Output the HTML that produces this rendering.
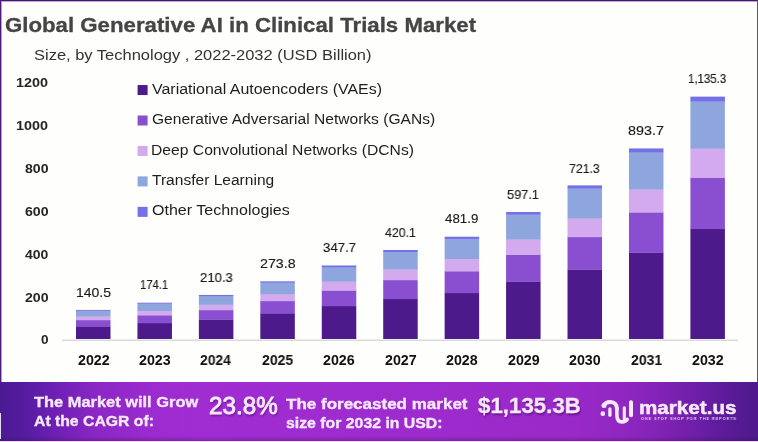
<!DOCTYPE html><html><head><meta charset="utf-8"><title>Global Generative AI in Clinical Trials Market</title><style>
html,body{margin:0;padding:0;}
body{width:758px;height:442px;overflow:hidden;background:#fff;font-family:"Liberation Sans",sans-serif;}
#wrap{position:relative;width:758px;height:442px;overflow:hidden;background:#fefefd;}
.t{position:absolute;white-space:nowrap;transform-origin:0 0;margin:0;padding:0;will-change:transform;}
.seg{position:absolute;}
#banner{position:absolute;left:0;top:382px;width:758px;height:60px;background:linear-gradient(90deg,#4a1a92 0%,#561ba0 3.3%,#6a1fb2 6.6%,#8c27c6 13%,#9b2bcf 20%,#a02dd2 26%,#9e2bce 50%,#9a29c9 75%,#9027c2 82%,#8223b6 87%,#6c1ea6 92.3%,#5a1b98 96%,#4e1a8c 100%);}
#bb{position:absolute;left:0;top:441px;width:758px;height:1px;background:#eadff3;}
#bsh{position:absolute;left:0;top:436px;width:758px;height:5px;background:linear-gradient(180deg,rgba(50,10,90,0) 0%,rgba(50,10,90,.28) 100%);}
#bt{position:absolute;left:0;top:0;width:758px;height:1px;background:#3f1a6c;}
#bt2{position:absolute;left:0;top:1px;width:758px;height:1px;background:#c4a3e2;}
#bl{position:absolute;left:0;top:0;width:1px;height:382px;background:#4a1a7c;}
#bl2{position:absolute;left:1px;top:1px;width:1px;height:381px;background:#b99be0;}
#br{position:absolute;left:757px;top:1px;width:1px;height:381px;background:#5c5c5c;}
#axis{position:absolute;left:62px;top:339px;width:676px;height:2px;background:linear-gradient(180deg,#eeeeee 0,#eeeeee 50%,#d8d8d8 50%,#d8d8d8 100%);}

</style></head><body><div id="wrap">
<div id="axis"></div>
<svg style="position:absolute;left:0;top:0" width="758" height="442" viewBox="0 0 758 442">
<rect x="76.00" y="326.27" width="34.50" height="12.73" fill="#4c1a8b"/>
<rect x="76.00" y="319.95" width="34.50" height="6.63" fill="#8a4fd1"/>
<rect x="76.00" y="316.33" width="34.50" height="3.91" fill="#d3aaee"/>
<rect x="76.00" y="310.49" width="34.50" height="6.14" fill="#8ea6dd"/>
<rect x="76.00" y="309.92" width="34.50" height="0.87" fill="#7470e6"/>
<rect x="137.44" y="322.98" width="34.50" height="16.02" fill="#4c1a8b"/>
<rect x="137.44" y="315.14" width="34.50" height="8.14" fill="#8a4fd1"/>
<rect x="137.44" y="310.66" width="34.50" height="4.78" fill="#d3aaee"/>
<rect x="137.44" y="303.42" width="34.50" height="7.54" fill="#8ea6dd"/>
<rect x="137.44" y="302.71" width="34.50" height="1.01" fill="#7470e6"/>
<rect x="198.88" y="319.43" width="34.50" height="19.57" fill="#4c1a8b"/>
<rect x="198.88" y="309.97" width="34.50" height="9.77" fill="#8a4fd1"/>
<rect x="198.88" y="304.56" width="34.50" height="5.71" fill="#d3aaee"/>
<rect x="198.88" y="295.81" width="34.50" height="9.05" fill="#8ea6dd"/>
<rect x="198.88" y="294.95" width="34.50" height="1.16" fill="#7470e6"/>
<rect x="260.32" y="313.21" width="34.50" height="25.79" fill="#4c1a8b"/>
<rect x="260.32" y="300.89" width="34.50" height="12.63" fill="#8a4fd1"/>
<rect x="260.32" y="293.84" width="34.50" height="7.34" fill="#d3aaee"/>
<rect x="260.32" y="282.45" width="34.50" height="11.69" fill="#8ea6dd"/>
<rect x="260.32" y="281.34" width="34.50" height="1.42" fill="#7470e6"/>
<rect x="321.76" y="305.97" width="34.50" height="33.03" fill="#4c1a8b"/>
<rect x="321.76" y="290.32" width="34.50" height="15.95" fill="#8a4fd1"/>
<rect x="321.76" y="281.37" width="34.50" height="9.25" fill="#d3aaee"/>
<rect x="321.76" y="266.91" width="34.50" height="14.76" fill="#8ea6dd"/>
<rect x="321.76" y="265.49" width="34.50" height="1.72" fill="#7470e6"/>
<rect x="383.20" y="298.88" width="34.50" height="40.12" fill="#4c1a8b"/>
<rect x="383.20" y="279.96" width="34.50" height="19.21" fill="#8a4fd1"/>
<rect x="383.20" y="269.16" width="34.50" height="11.11" fill="#d3aaee"/>
<rect x="383.20" y="251.68" width="34.50" height="17.77" fill="#8ea6dd"/>
<rect x="383.20" y="249.97" width="34.50" height="2.01" fill="#7470e6"/>
<rect x="444.64" y="292.82" width="34.50" height="46.18" fill="#4c1a8b"/>
<rect x="444.64" y="271.13" width="34.50" height="22.00" fill="#8a4fd1"/>
<rect x="444.64" y="258.73" width="34.50" height="12.70" fill="#d3aaee"/>
<rect x="444.64" y="238.68" width="34.50" height="20.34" fill="#8ea6dd"/>
<rect x="444.64" y="236.72" width="34.50" height="2.26" fill="#7470e6"/>
<rect x="506.08" y="281.54" width="34.50" height="57.46" fill="#4c1a8b"/>
<rect x="506.08" y="254.65" width="34.50" height="27.18" fill="#8a4fd1"/>
<rect x="506.08" y="239.29" width="34.50" height="15.66" fill="#d3aaee"/>
<rect x="506.08" y="214.45" width="34.50" height="25.14" fill="#8ea6dd"/>
<rect x="506.08" y="212.02" width="34.50" height="2.73" fill="#7470e6"/>
<rect x="567.52" y="269.37" width="34.50" height="69.63" fill="#4c1a8b"/>
<rect x="567.52" y="236.89" width="34.50" height="32.78" fill="#8a4fd1"/>
<rect x="567.52" y="218.33" width="34.50" height="18.86" fill="#d3aaee"/>
<rect x="567.52" y="188.33" width="34.50" height="30.30" fill="#8ea6dd"/>
<rect x="567.52" y="185.39" width="34.50" height="3.24" fill="#7470e6"/>
<rect x="628.96" y="252.47" width="34.50" height="86.53" fill="#4c1a8b"/>
<rect x="628.96" y="212.24" width="34.50" height="40.54" fill="#8a4fd1"/>
<rect x="628.96" y="189.24" width="34.50" height="23.29" fill="#d3aaee"/>
<rect x="628.96" y="152.07" width="34.50" height="37.47" fill="#8ea6dd"/>
<rect x="628.96" y="148.43" width="34.50" height="3.94" fill="#7470e6"/>
<rect x="690.40" y="228.80" width="34.50" height="110.20" fill="#4c1a8b"/>
<rect x="690.40" y="177.69" width="34.50" height="51.42" fill="#8a4fd1"/>
<rect x="690.40" y="148.48" width="34.50" height="29.51" fill="#d3aaee"/>
<rect x="690.40" y="101.26" width="34.50" height="47.52" fill="#8ea6dd"/>
<rect x="690.40" y="96.63" width="34.50" height="4.92" fill="#7470e6"/>
<rect x="137.6" y="85.05" width="10" height="10" fill="#4c1a8b"/>
<rect x="137.6" y="115.50" width="10" height="10" fill="#8a4fd1"/>
<rect x="137.6" y="145.95" width="10" height="10" fill="#d3aaee"/>
<rect x="137.6" y="176.40" width="10" height="10" fill="#8ea6dd"/>
<rect x="137.6" y="206.85" width="10" height="10" fill="#7470e6"/>
</svg>
<div id="banner"></div><div id="bsh"></div><div id="bb"></div>
<div class="seg" style="left:0;top:413px;width:1px;height:26px;background:#e6dcf0"></div>
<div id="bt"></div><div id="bt2"></div><div id="bl"></div><div id="bl2"></div><div id="br"></div>
<svg style="position:absolute;left:596px;top:396px" width="42" height="32" viewBox="596 396 42 32"><g fill="none" stroke="#f7e9fb" stroke-linecap="round" stroke-linejoin="round"><path stroke-width="4.1" d="M603.9 405.6 C605 402.9 607.6 402 610.4 402 C614.6 402 616.9 405 616.9 408.6"/><path stroke-width="3.6" d="M616.9 408.6 L616.9 415 C616.9 419.4 618.9 421.9 622 421.9 C624.6 421.9 626.3 420.9 627.2 419.4"/><path stroke-width="3.3" d="M609.9 408.9 L609.9 415.2"/><path stroke-width="3.1" d="M624.3 407.7 L624.3 419"/><path stroke-width="4" d="M631 402.3 L631 415.2"/></g><circle cx="604" cy="405.4" r="2.5" fill="#f7e9fb"/><circle cx="602.8" cy="413.7" r="2.35" fill="#f7e9fb"/></svg>
<div class="t" id="title" style="left:5.41px;top:15.01px;font-size:20.06px;line-height:20.06px;font-weight:700;color:#454545;transform:scaleX(1.1088);-webkit-text-stroke:0.3px #454545;">Global Generative AI in Clinical Trials Market</div>
<div class="t" id="sub" style="left:34.36px;top:47.02px;font-size:15.54px;line-height:15.54px;font-weight:400;color:#333;transform:scaleX(1.0604);">Size, by Technology , 2022-2032 (USD Billion)</div>
<div class="t" id="y0" style="left:40.92px;top:333.00px;font-size:13.56px;line-height:13.56px;font-weight:700;color:#262626;transform:scaleX(0.9526);">0</div>
<div class="t" id="y200" style="left:24.54px;top:291.01px;font-size:13.56px;line-height:13.56px;font-weight:700;color:#262626;transform:scaleX(1.0433);">200</div>
<div class="t" id="y400" style="left:24.79px;top:248.01px;font-size:13.56px;line-height:13.56px;font-weight:700;color:#262626;transform:scaleX(1.0320);">400</div>
<div class="t" id="y600" style="left:24.50px;top:205.00px;font-size:13.56px;line-height:13.56px;font-weight:700;color:#262626;transform:scaleX(1.0450);">600</div>
<div class="t" id="y800" style="left:24.58px;top:162.00px;font-size:13.56px;line-height:13.56px;font-weight:700;color:#262626;transform:scaleX(1.0417);">800</div>
<div class="t" id="y1000" style="left:16.10px;top:119.01px;font-size:13.56px;line-height:13.56px;font-weight:700;color:#262626;transform:scaleX(1.0633);">1000</div>
<div class="t" id="y1200" style="left:16.10px;top:76.01px;font-size:13.56px;line-height:13.56px;font-weight:700;color:#262626;transform:scaleX(1.0633);">1200</div>
<div class="t" id="x2022" style="left:77.59px;top:353.02px;font-size:14.27px;line-height:14.27px;font-weight:700;color:#111;transform:scaleX(0.9900);">2022</div>
<div class="t" id="x2023" style="left:139.03px;top:353.02px;font-size:14.27px;line-height:14.27px;font-weight:700;color:#111;transform:scaleX(0.9877);">2023</div>
<div class="t" id="x2024" style="left:200.48px;top:353.02px;font-size:14.27px;line-height:14.27px;font-weight:700;color:#111;transform:scaleX(0.9742);">2024</div>
<div class="t" id="x2025" style="left:261.91px;top:353.02px;font-size:14.27px;line-height:14.27px;font-weight:700;color:#111;transform:scaleX(0.9843);">2025</div>
<div class="t" id="x2026" style="left:323.35px;top:353.02px;font-size:14.27px;line-height:14.27px;font-weight:700;color:#111;transform:scaleX(0.9877);">2026</div>
<div class="t" id="x2027" style="left:384.79px;top:353.02px;font-size:14.27px;line-height:14.27px;font-weight:700;color:#111;transform:scaleX(0.9923);">2027</div>
<div class="t" id="x2028" style="left:446.23px;top:353.02px;font-size:14.27px;line-height:14.27px;font-weight:700;color:#111;transform:scaleX(0.9854);">2028</div>
<div class="t" id="x2029" style="left:507.67px;top:353.02px;font-size:14.27px;line-height:14.27px;font-weight:700;color:#111;transform:scaleX(0.9889);">2029</div>
<div class="t" id="x2030" style="left:569.11px;top:353.02px;font-size:14.27px;line-height:14.27px;font-weight:700;color:#111;transform:scaleX(0.9900);">2030</div>
<div class="t" id="x2031" style="left:630.55px;top:353.02px;font-size:14.27px;line-height:14.27px;font-weight:700;color:#111;transform:scaleX(0.9843);">2031</div>
<div class="t" id="x2032" style="left:691.99px;top:353.02px;font-size:14.27px;line-height:14.27px;font-weight:700;color:#111;transform:scaleX(0.9900);">2032</div>
<div class="t" id="leg0" style="left:152.46px;top:82.00px;font-size:14.83px;line-height:14.83px;font-weight:400;color:#1e1e1e;transform:scaleX(1.0759);">Variational Autoencoders (VAEs)</div>
<div class="t" id="leg1" style="left:151.72px;top:112.01px;font-size:14.83px;line-height:14.83px;font-weight:400;color:#1e1e1e;transform:scaleX(1.0509);">Generative Adversarial Networks (GANs)</div>
<div class="t" id="leg2" style="left:151.25px;top:143.00px;font-size:14.83px;line-height:14.83px;font-weight:400;color:#1e1e1e;transform:scaleX(1.0567);">Deep Convolutional Networks (DCNs)</div>
<div class="t" id="leg3" style="left:152.19px;top:173.00px;font-size:14.83px;line-height:14.83px;font-weight:400;color:#1e1e1e;transform:scaleX(1.0488);">Transfer Learning</div>
<div class="t" id="leg4" style="left:151.78px;top:203.01px;font-size:14.83px;line-height:14.83px;font-weight:400;color:#1e1e1e;transform:scaleX(1.0806);">Other Technologies</div>
<div class="t" id="d0" style="left:75.50px;top:286.01px;font-size:13.28px;line-height:13.28px;font-weight:400;color:#1a1a1a;transform:scaleX(1.0537);-webkit-text-stroke:0.15px #1a1a1a;">140.5</div>
<div class="t" id="d1" style="left:140.45px;top:278.01px;font-size:13.28px;line-height:13.28px;font-weight:400;color:#1a1a1a;transform:scaleX(0.8481);-webkit-text-stroke:0.15px #1a1a1a;">174.1</div>
<div class="t" id="d2" style="left:199.67px;top:271.01px;font-size:13.28px;line-height:13.28px;font-weight:400;color:#1a1a1a;transform:scaleX(0.9876);-webkit-text-stroke:0.15px #1a1a1a;">210.3</div>
<div class="t" id="d3" style="left:259.66px;top:257.01px;font-size:13.28px;line-height:13.28px;font-weight:400;color:#1a1a1a;transform:scaleX(1.0740);-webkit-text-stroke:0.15px #1a1a1a;">273.8</div>
<div class="t" id="d4" style="left:322.57px;top:241.00px;font-size:13.28px;line-height:13.28px;font-weight:400;color:#1a1a1a;transform:scaleX(0.9939);-webkit-text-stroke:0.15px #1a1a1a;">347.7</div>
<div class="t" id="d5" style="left:385.17px;top:226.01px;font-size:13.28px;line-height:13.28px;font-weight:400;color:#1a1a1a;transform:scaleX(0.9289);-webkit-text-stroke:0.15px #1a1a1a;">420.1</div>
<div class="t" id="d6" style="left:445.39px;top:212.01px;font-size:13.28px;line-height:13.28px;font-weight:400;color:#1a1a1a;transform:scaleX(1.0022);-webkit-text-stroke:0.15px #1a1a1a;">481.9</div>
<div class="t" id="d7" style="left:507.42px;top:188.01px;font-size:13.28px;line-height:13.28px;font-weight:400;color:#1a1a1a;transform:scaleX(0.9606);-webkit-text-stroke:0.15px #1a1a1a;">597.1</div>
<div class="t" id="d8" style="left:569.36px;top:162.00px;font-size:13.28px;line-height:13.28px;font-weight:400;color:#1a1a1a;transform:scaleX(0.9251);-webkit-text-stroke:0.15px #1a1a1a;">721.3</div>
<div class="t" id="d9" style="left:628.30px;top:124.00px;font-size:13.28px;line-height:13.28px;font-weight:400;color:#1a1a1a;transform:scaleX(1.0802);-webkit-text-stroke:0.15px #1a1a1a;">893.7</div>
<div class="t" id="d10" style="left:688.39px;top:72.01px;font-size:13.28px;line-height:13.28px;font-weight:400;color:#1a1a1a;transform:scaleX(0.8615);-webkit-text-stroke:0.15px #1a1a1a;">1,135.3</div>
<div class="t" id="b1" style="left:34.14px;top:394.01px;font-size:15.26px;line-height:15.26px;font-weight:700;color:#f7e9fb;transform:scaleX(1.0764);-webkit-text-stroke:0.35px #f7e9fb;">The Market will Grow</div>
<div class="t" id="b2" style="left:33.91px;top:413.01px;font-size:15.26px;line-height:15.26px;font-weight:700;color:#f7e9fb;transform:scaleX(1.0332);-webkit-text-stroke:0.35px #f7e9fb;">At the CAGR of:</div>
<div class="t" id="pct" style="left:209.29px;top:395.01px;font-size:23.73px;line-height:23.73px;font-weight:400;color:#f7e9fb;transform:scaleX(1.0212);-webkit-text-stroke:0.85px #f7e9fb;text-shadow:1px 2px 2px rgba(60,0,90,.5);">23.8%</div>
<div class="t" id="b3" style="left:286.33px;top:397.00px;font-size:14.97px;line-height:14.97px;font-weight:700;color:#f7e9fb;transform:scaleX(1.1365);-webkit-text-stroke:0.35px #f7e9fb;">The forecasted market</div>
<div class="t" id="b4" style="left:285.95px;top:416.01px;font-size:14.97px;line-height:14.97px;font-weight:700;color:#f7e9fb;transform:scaleX(1.0571);-webkit-text-stroke:0.35px #f7e9fb;">size for 2032 in USD:</div>
<div class="t" id="usd" style="left:478.22px;top:395.00px;font-size:22.32px;line-height:22.32px;font-weight:700;color:#f7e9fb;transform:scaleX(0.9980);-webkit-text-stroke:0.3px #f7e9fb;text-shadow:1px 2px 2px rgba(60,0,90,.55);">$1,135.3B</div>
<div class="t" id="mk" style="left:639.46px;top:400.01px;font-size:17.79px;line-height:17.79px;font-weight:700;color:#f7e9fb;transform:scaleX(1.1605);-webkit-text-stroke:0.5px #f7e9fb;">market.us</div>
<div class="t" id="tag" style="left:640.85px;top:417.01px;font-size:3.92px;line-height:3.92px;font-weight:700;color:#e9cff5;transform:scaleX(0.9523);letter-spacing:1.05px;">ONE STOP SHOP FOR THE REPORTS</div>
</div></body></html>
